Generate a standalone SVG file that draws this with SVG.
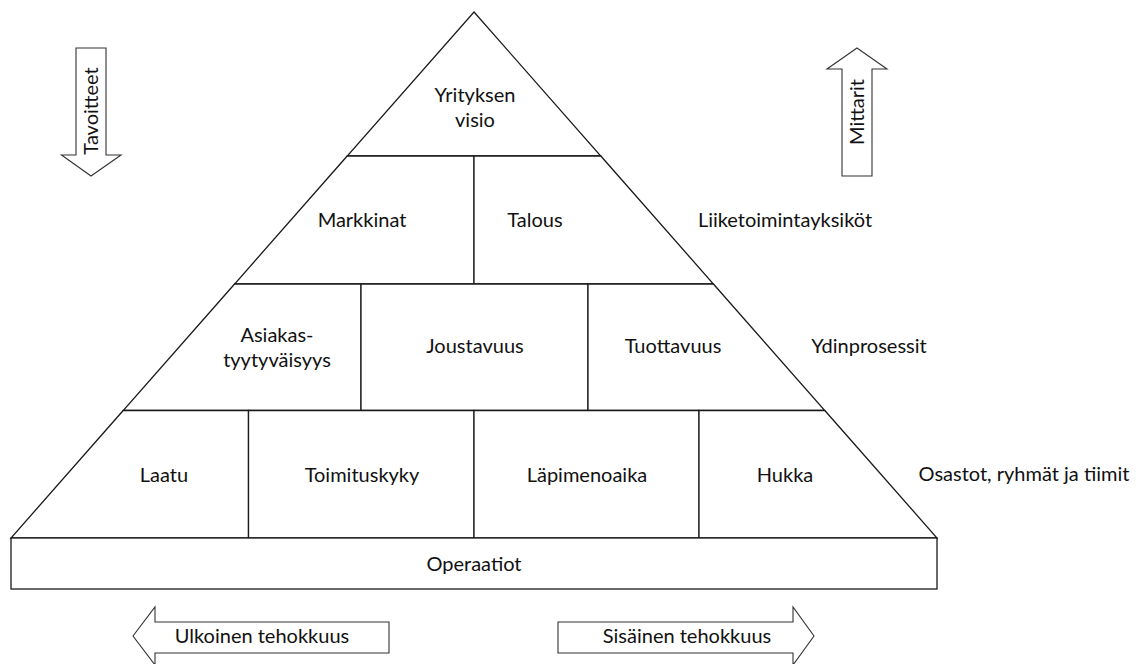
<svg xmlns="http://www.w3.org/2000/svg" width="1138" height="664" viewBox="0 0 1138 664">
  <style>
    .cell { fill: #ffffff; stroke: #1a1a1a; stroke-width: 1.3; stroke-linejoin: miter; }
    .arrow { fill: #ffffff; stroke: #333333; stroke-width: 1.1; }
    .lbl { font-family: Lato, "Liberation Sans", sans-serif; font-size: 20px; fill: #111111; text-anchor: middle; }
  </style>
  <rect width="1138" height="664" fill="#ffffff"/>

  <!-- Pyramid levels -->
  <g id="visio">
    <polygon class="cell" points="474,12 600.8,156 347.2,156"/>
    <text class="lbl" x="475" y="102">Yrityksen</text>
    <text class="lbl" x="475" y="127">visio</text>
  </g>
  <g id="markkinat">
    <polygon class="cell" points="347.2,156 474,156 474,284 234.6,284"/>
    <text class="lbl" x="362" y="227">Markkinat</text>
  </g>
  <g id="talous">
    <polygon class="cell" points="474,156 600.8,156 713.4,284 474,284"/>
    <text class="lbl" x="535" y="227">Talous</text>
  </g>
  <g id="asiakastyytyvaisyys">
    <polygon class="cell" points="234.6,284 361,284 361,410.5 123.2,410.5"/>
    <text class="lbl" x="277" y="342">Asiakas-</text>
    <text class="lbl" x="277" y="367">tyytyväisyys</text>
  </g>
  <g id="joustavuus">
    <polygon class="cell" points="361,284 588,284 588,410.5 361,410.5"/>
    <text class="lbl" x="475" y="353">Joustavuus</text>
  </g>
  <g id="tuottavuus">
    <polygon class="cell" points="588,284 713.4,284 824.8,410.5 588,410.5"/>
    <text class="lbl" x="673" y="353">Tuottavuus</text>
  </g>
  <g id="laatu">
    <polygon class="cell" points="123.2,410.5 248.5,410.5 248.5,538 11,538"/>
    <text class="lbl" x="164" y="482">Laatu</text>
  </g>
  <g id="toimituskyky">
    <polygon class="cell" points="248.5,410.5 474,410.5 474,538 248.5,538"/>
    <text class="lbl" x="362" y="482">Toimituskyky</text>
  </g>
  <g id="lapimenoaika">
    <polygon class="cell" points="474,410.5 699,410.5 699,538 474,538"/>
    <text class="lbl" x="587" y="482">Läpimenoaika</text>
  </g>
  <g id="hukka">
    <polygon class="cell" points="699,410.5 824.8,410.5 937,538 699,538"/>
    <text class="lbl" x="785" y="482">Hukka</text>
  </g>
  <g id="operaatiot">
    <rect class="cell" x="11" y="538" width="926" height="51"/>
    <text class="lbl" x="474" y="571">Operaatiot</text>
  </g>

  <!-- Level names to the right of the pyramid -->
  <g id="tasot">
    <text class="lbl" x="785" y="227">Liiketoimintayksiköt</text>
    <text class="lbl" x="869" y="353">Ydinprosessit</text>
    <text class="lbl" x="1024" y="481">Osastot, ryhmät ja tiimit</text>
  </g>

  <!-- Direction arrows -->
  <g id="connectors">
    <g id="tavoitteet">
      <polygon class="arrow" points="76,48 106,48 106,155 121,155 91,176 61.5,155 76,155"/>
      <text class="lbl" transform="translate(98,111) rotate(-90)" x="0" y="0">Tavoitteet</text>
    </g>
    <g id="mittarit">
      <polygon class="arrow" points="857,48 887,69 872,69 872,176 842,176 842,69 827,69"/>
      <text class="lbl" transform="translate(864,112) rotate(-90)" x="0" y="0">Mittarit</text>
    </g>
    <g id="ulkoinen">
      <polygon class="arrow" points="133,636 155,607 155,622 389,622 389,653 155,653 155,665"/>
      <text class="lbl" x="262" y="643">Ulkoinen tehokkuus</text>
    </g>
    <g id="sisainen">
      <polygon class="arrow" points="558,622 793,622 793,607 814,636 793,665 793,653 558,653"/>
      <text class="lbl" x="687" y="643">Sisäinen tehokkuus</text>
    </g>
  </g>
</svg>
